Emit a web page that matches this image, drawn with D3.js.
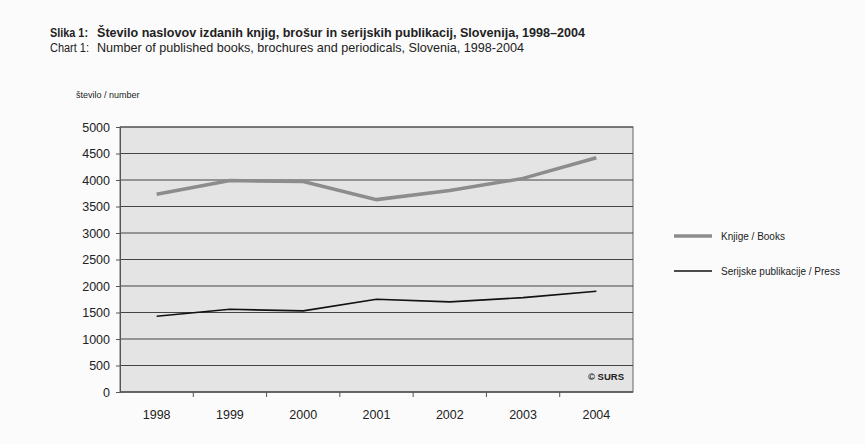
<!DOCTYPE html>
<html>
<head>
<meta charset="utf-8">
<script src="https://cdn.jsdelivr.net/npm/d3@7"></script>
<style>
  html, body { margin: 0; padding: 0; background: #fbfbfb; }
  text { font-family: "Liberation Sans", Arial, sans-serif; fill: #222; }
</style>
</head>
<body>
<svg id="chart" width="865" height="444"></svg>
<script>
// Titles of published books and periodicals, Slovenia
const years = ["1998", "1999", "2000", "2001", "2002", "2003", "2004"];
const books = [3730, 3990, 3970, 3630, 3800, 4030, 4420];
const press = [1430, 1560, 1530, 1750, 1700, 1780, 1900];
const yTicks = [0, 500, 1000, 1500, 2000, 2500, 3000, 3500, 4000, 4500, 5000];
const seriesNames = ["Knjige / Books", "Serijske publikacije / Press"];

const svg = d3.select("#chart");
const plot = { left: 120, right: 633, top: 127, bottom: 392 };

const x = d3.scalePoint().domain(years).range([plot.left, plot.right]).padding(0.5);
const band = d3.scaleBand().domain(years).range([plot.left, plot.right]);
const y = d3.scaleLinear().domain([0, 5000]).range([plot.bottom, plot.top]);

// headings
svg.append("text").attr("x", 50).attr("y", 37).style("font-size", "12px").style("font-weight", "bold")
  .attr("textLength", 38).attr("lengthAdjust", "spacingAndGlyphs")
  .text("Slika 1:");
svg.append("text").attr("x", 97).attr("y", 37).style("font-size", "12.4px").style("font-weight", "bold")
  .attr("textLength", 488).attr("lengthAdjust", "spacingAndGlyphs")
  .text("Število naslovov izdanih knjig, brošur in serijskih publikacij, Slovenija, 1998–2004");
svg.append("text").attr("x", 50).attr("y", 52).style("font-size", "12px")
  .attr("textLength", 39).attr("lengthAdjust", "spacingAndGlyphs")
  .text("Chart 1:");
svg.append("text").attr("x", 97).attr("y", 52).style("font-size", "12.4px")
  .attr("textLength", 427).attr("lengthAdjust", "spacingAndGlyphs")
  .text("Number of published books, brochures and periodicals, Slovenia, 1998-2004");
svg.append("text").attr("x", 76).attr("y", 98).style("font-size", "9px")
  .text("število / number");

// plot background
svg.append("rect")
  .attr("x", plot.left).attr("y", plot.top)
  .attr("width", plot.right - plot.left).attr("height", plot.bottom - plot.top)
  .attr("fill", "#e4e4e4").attr("stroke", "#666").attr("stroke-width", 1);

// horizontal gridlines
svg.append("g").selectAll("line").data(yTicks).join("line")
  .attr("x1", plot.left).attr("x2", plot.right)
  .attr("y1", d => y(d)).attr("y2", d => y(d))
  .attr("stroke", "#444").attr("stroke-width", 1);

// y axis
const yAxis = d3.axisLeft(y).tickValues(yTicks).tickSize(4).tickPadding(6).tickFormat(d3.format("d"));
const gy = svg.append("g").attr("transform", `translate(${plot.left},0)`).call(yAxis);
gy.select(".domain").attr("stroke", "#555");
gy.selectAll(".tick line").attr("stroke", "#555");
gy.selectAll("text").style("font-size", "12.5px").attr("fill", "#222");

// x axis: ticks on category boundaries
const gx = svg.append("g").attr("transform", `translate(0,${plot.bottom})`);
gx.append("line").attr("x1", plot.left).attr("x2", plot.right).attr("stroke", "#555");
gx.selectAll("line.tk").data(years.slice(1)).join("line").attr("class", "tk")
  .attr("x1", d => band(d)).attr("x2", d => band(d)).attr("y1", 0).attr("y2", 5)
  .attr("stroke", "#555");
gx.selectAll("text").data(years).join("text")
  .attr("x", d => x(d)).attr("y", 27).attr("text-anchor", "middle")
  .style("font-size", "12.5px").text(d => d);

// series lines
const line = d3.line().x((d, i) => x(years[i])).y(d => y(d));
svg.append("path").datum(books).attr("d", line)
  .attr("fill", "none").attr("stroke", "#8c8c8c").attr("stroke-width", 3.5);
svg.append("path").datum(press).attr("d", line)
  .attr("fill", "none").attr("stroke", "#111").attr("stroke-width", 1.6);

// source note
svg.append("text").attr("x", 624).attr("y", 380).attr("text-anchor", "end")
  .style("font-size", "9.5px").style("font-weight", "bold").text("© SURS");

// legend
const legend = [
  { name: seriesNames[0], color: "#8c8c8c", width: 3.5, y: 236 },
  { name: seriesNames[1], color: "#111", width: 1.6, y: 271 }
];
const lg = svg.append("g").selectAll("g").data(legend).join("g");
lg.append("line").attr("x1", 674).attr("x2", 712).attr("y1", d => d.y).attr("y2", d => d.y)
  .attr("stroke", d => d.color).attr("stroke-width", d => d.width);
lg.append("text").attr("x", 721).attr("y", d => d.y + 3.5).style("font-size", "10px").text(d => d.name);
</script>
</body>
</html>
